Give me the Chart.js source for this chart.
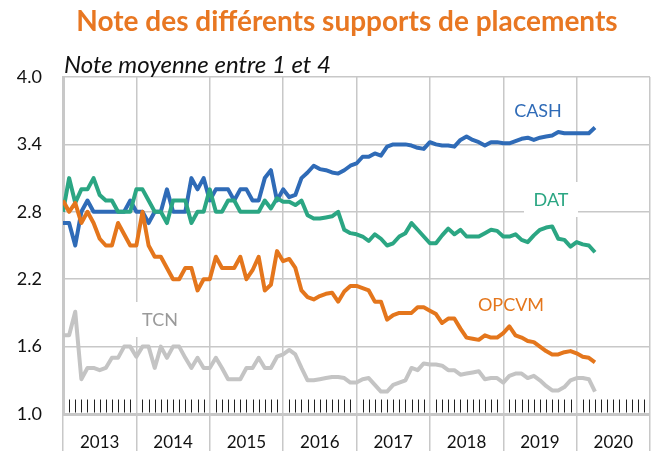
<!DOCTYPE html>
<html>
<head>
<meta charset="utf-8">
<script src="https://cdn.jsdelivr.net/npm/chart.js@4.4.1/dist/chart.umd.min.js"></script>
<style>
  html, body { margin: 0; padding: 0; background: #fff; }
  canvas { display: block; }
</style>
</head>
<body>
<canvas id="chart" width="652" height="451"></canvas>
<script>
// Notes mensuelles, janvier 2013 -> avril 2020
const years = ['2013', '2014', '2015', '2016', '2017', '2018', '2019', '2020'];
const yTicks = [1.0, 1.6, 2.2, 2.8, 3.4, 4.0];

const cash = [
  2.70, 2.70, 2.50, 2.80, 2.90, 2.80, 2.80, 2.80, 2.80, 2.80, 2.80, 2.90,
  2.80, 2.80, 2.70, 2.80, 2.80, 3.00, 2.80, 2.80, 2.80, 3.10, 3.00, 3.10,
  2.90, 3.00, 3.00, 3.00, 2.90, 3.00, 3.00, 2.90, 2.90, 3.10, 3.17, 2.90,
  3.00, 2.93, 2.95, 3.10, 3.15, 3.21, 3.18, 3.17, 3.15, 3.14, 3.17, 3.21,
  3.23, 3.29, 3.29, 3.32, 3.30, 3.38, 3.40, 3.40, 3.40, 3.39, 3.37, 3.36,
  3.42, 3.40, 3.39, 3.39, 3.38, 3.44, 3.47, 3.44, 3.42, 3.39, 3.42, 3.42,
  3.41, 3.41, 3.43, 3.45, 3.46, 3.44, 3.46, 3.47, 3.48, 3.51, 3.50, 3.50,
  3.50, 3.50, 3.50, 3.55
];
const dat = [
  2.80, 3.10, 2.88, 3.00, 3.00, 3.10, 2.95, 2.90, 2.90, 2.80, 2.80, 2.80,
  3.00, 3.00, 2.90, 2.80, 2.80, 2.70, 2.90, 2.90, 2.90, 2.70, 2.80, 2.80,
  3.00, 2.80, 2.80, 2.90, 2.90, 2.80, 2.80, 2.80, 2.80, 2.90, 2.83, 2.92,
  2.89, 2.89, 2.86, 2.90, 2.77, 2.74, 2.74, 2.75, 2.76, 2.80, 2.64, 2.61,
  2.60, 2.58, 2.54, 2.60, 2.56, 2.50, 2.52, 2.58, 2.61, 2.70, 2.64, 2.58,
  2.52, 2.52, 2.59, 2.65, 2.60, 2.64, 2.58, 2.58, 2.58, 2.61, 2.64, 2.63,
  2.58, 2.58, 2.60, 2.55, 2.53, 2.59, 2.64, 2.66, 2.67, 2.56, 2.55, 2.49,
  2.53, 2.51, 2.50, 2.44
];
const opcvm = [
  2.90, 2.80, 2.88, 2.70, 2.80, 2.70, 2.56, 2.50, 2.50, 2.70, 2.60, 2.50,
  2.50, 2.80, 2.50, 2.40, 2.40, 2.30, 2.20, 2.20, 2.30, 2.30, 2.10, 2.20,
  2.20, 2.40, 2.30, 2.30, 2.30, 2.40, 2.20, 2.28, 2.40, 2.10, 2.15, 2.45,
  2.36, 2.38, 2.30, 2.10, 2.04, 2.02, 2.05, 2.07, 2.08, 2.00, 2.09, 2.14,
  2.14, 2.12, 2.10, 2.00, 2.00, 1.84, 1.88, 1.90, 1.90, 1.90, 1.95, 1.95,
  1.92, 1.89, 1.81, 1.85, 1.85, 1.76, 1.68, 1.67, 1.66, 1.70, 1.68, 1.68,
  1.72, 1.78, 1.70, 1.68, 1.65, 1.64, 1.60, 1.56, 1.53, 1.53, 1.55, 1.56,
  1.54, 1.51, 1.50, 1.46
];
const tcn = [
  1.70, 1.70, 1.91, 1.31, 1.41, 1.41, 1.39, 1.41, 1.50, 1.50, 1.60, 1.60,
  1.51, 1.60, 1.60, 1.41, 1.60, 1.50, 1.60, 1.60, 1.50, 1.41, 1.50, 1.41,
  1.41, 1.50, 1.41, 1.31, 1.31, 1.31, 1.41, 1.41, 1.50, 1.41, 1.41, 1.51,
  1.53, 1.57, 1.53, 1.41, 1.30, 1.30, 1.31, 1.32, 1.33, 1.33, 1.32, 1.28,
  1.28, 1.31, 1.32, 1.26, 1.20, 1.20, 1.26, 1.28, 1.30, 1.41, 1.39, 1.45,
  1.44, 1.44, 1.43, 1.39, 1.39, 1.35, 1.36, 1.37, 1.38, 1.31, 1.32, 1.32,
  1.28, 1.34, 1.36, 1.36, 1.32, 1.34, 1.30, 1.25, 1.21, 1.21, 1.24, 1.30,
  1.32, 1.32, 1.31, 1.20
];

const COLORS = {
  cash: '#2f6bb7',
  dat: '#2ba683',
  opcvm: '#e4761c',
  tcn: '#c4c4c4',
  grid: '#c8c8c8',
  title: '#e87722'
};

const toXY = arr => arr.map((v, i) => ({ x: i, y: v }));

function serie(label, data, color) {
  return {
    label: label,
    data: toXY(data),
    borderColor: color,
    backgroundColor: color,
    borderWidth: 4,
    pointRadius: 0,
    tension: 0,
    borderJoinStyle: 'round'
  };
}

// Titre, sous-titre, étiquettes des séries et petites graduations mensuelles
const decor = {
  id: 'decor',
  beforeDatasetsDraw(chart) {
    const { ctx, scales: { x, y } } = chart;
    ctx.save();

    // graduations mensuelles au bas de la zone
    ctx.strokeStyle = '#222';
    ctx.lineWidth = 1;
    const base = y.getPixelForValue(1.0) - 1.5;
    for (let m = 1; m < years.length * 12; m++) {
      if (m % 12 === 0) continue;
      const px = Math.round(x.getPixelForValue(m)) + 0.5;
      ctx.beginPath();
      ctx.moveTo(px, base - 13);
      ctx.lineTo(px, base);
      ctx.stroke();
    }

    // étiquettes des séries
    ctx.font = '18px Lato';
    ctx.textAlign = 'center';
    ctx.textBaseline = 'middle';
    const labels = [
      { t: 'CASH', c: COLORS.cash, x: 538, y: 111, box: false },
      { t: 'DAT', c: COLORS.dat, x: 551, y: 200, box: true },
      { t: 'OPCVM', c: COLORS.opcvm, x: 511, y: 305, box: false },
      { t: 'TCN', c: '#9a9a9a', x: 160, y: 320, box: true }
    ];
    labels.forEach(l => {
      if (l.box) {
        ctx.fillStyle = '#fff';
        ctx.fillRect(l.x - 27, l.y - 18, 54, 35);
      }
      ctx.fillStyle = l.c;
      ctx.fillText(l.t, l.x, l.y);
    });
    ctx.restore();
  },
  afterDraw(chart) {
    const { ctx } = chart;
    ctx.save();
    ctx.textBaseline = 'alphabetic';
    ctx.textAlign = 'center';
    ctx.fillStyle = COLORS.title;
    ctx.font = 'bold 28px Lato';
    ctx.fillText('Note des différents supports de placements', 347, 31);
    ctx.textAlign = 'left';
    ctx.fillStyle = '#111';
    ctx.font = 'italic 24px Lato';
    ctx.fillText('Note moyenne entre 1 et 4', 64, 73);
    ctx.restore();
  }
};

new Chart(document.getElementById('chart'), {
  type: 'line',
  data: {
    datasets: [
      serie('TCN', tcn, COLORS.tcn),
      serie('OPCVM', opcvm, COLORS.opcvm),
      serie('DAT', dat, COLORS.dat),
      serie('CASH', cash, COLORS.cash)
    ]
  },
  options: {
    responsive: false,
    animation: false,
    devicePixelRatio: 1,
    layout: { padding: { top: 77, right: 2, left: 0, bottom: 0 } },
    plugins: {
      legend: { display: false },
      tooltip: { enabled: false }
    },
    scales: {
      x: {
        type: 'linear',
        min: 0,
        max: years.length * 12,
        afterFit(scale) { scale.height = 37; },
        afterBuildTicks(scale) {
          const t = [];
          for (let k = 0; k <= years.length * 2; k++) t.push({ value: k * 6 });
          scale.ticks = t;
        },
        grid: {
          color: ctx => (ctx.tick && ctx.tick.value % 12 === 0) ? COLORS.grid : 'rgba(0,0,0,0)',
          tickColor: ctx => (ctx.tick && ctx.tick.value % 12 === 0) ? COLORS.grid : 'rgba(0,0,0,0)',
          lineWidth: 1.5,
          tickLength: 37
        },
        border: { display: true, color: COLORS.grid, width: 3 },
        ticks: {
          autoSkip: false,
          maxRotation: 0,
          padding: -19,
          color: '#111',
          font: { family: 'Lato', size: 17 },
          callback: v => (v % 12 === 6) ? years[(v - 6) / 12] : ''
        }
      },
      y: {
        min: 1.0,
        max: 4.0,
        afterFit(scale) { scale.width = 63; },
        afterBuildTicks(scale) {
          scale.ticks = yTicks.map(v => ({ value: v }));
        },
        grid: { color: COLORS.grid, lineWidth: 1.5, drawTicks: false },
        border: { display: true, color: COLORS.grid, width: 3 },
        ticks: {
          padding: 21,
          color: '#111',
          font: { family: 'Lato', size: 18 },
          callback: v => v.toFixed(1)
        }
      }
    }
  },
  plugins: [decor]
});
</script>
</body>
</html>
